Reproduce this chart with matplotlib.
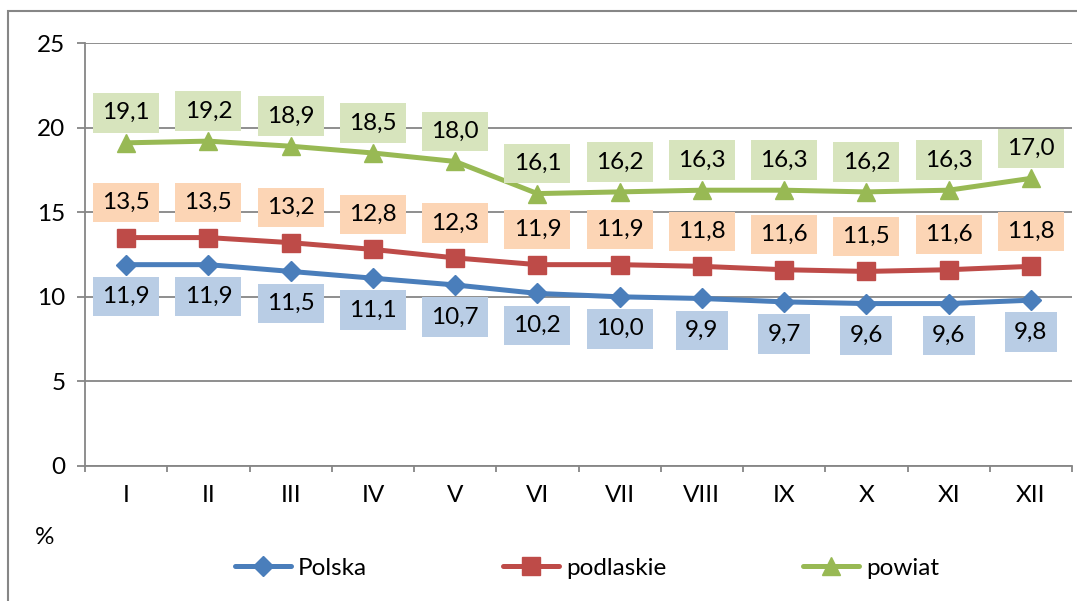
import matplotlib.pyplot as plt
from matplotlib.patches import Rectangle
from matplotlib.ticker import FixedLocator

# dane
miesiace = ["I", "II", "III", "IV", "V", "VI", "VII", "VIII", "IX", "X", "XI", "XII"]
polska = [11.9, 11.9, 11.5, 11.1, 10.7, 10.2, 10.0, 9.9, 9.7, 9.6, 9.6, 9.8]
podlaskie = [13.5, 13.5, 13.2, 12.8, 12.3, 11.9, 11.9, 11.8, 11.6, 11.5, 11.6, 11.8]
powiat = [19.1, 19.2, 18.9, 18.5, 18.0, 16.1, 16.2, 16.3, 16.3, 16.2, 16.3, 17.0]

plt.rcParams['font.family'] = ['Lato', 'DejaVu Sans']
FS = 17.5
SZARY = "#868686"

fig = plt.figure(figsize=(10.77, 6.01), dpi=100)
ax = fig.add_axes([85 / 1077, 1 - 466 / 601, 987 / 1077, 423 / 601])

x = list(range(len(miesiace)))

serie = [
    ("Polska", polska, "#4A7EBB", "D", 10, "#B9CDE5", -32),
    ("podlaskie", podlaskie, "#BE4B48", "s", 13, "#FCD5B5", 35),
    ("powiat", powiat, "#98B954", "^", 13, "#D7E4BD", 30),
]

for nazwa, wart, kolor, marker, ms, tlo, dy in serie:
    ax.plot(x, wart, color=kolor, lw=3.6, marker=marker, ms=ms,
            mec=kolor, mfc=kolor, label=nazwa, zorder=3, solid_capstyle='round')
    for xi, v in zip(x, wart):
        ax.annotate(f"{v:.1f}".replace(".", ","), (xi, v), xytext=(0, dy * 0.72),
                    textcoords="offset points", ha="center", va="center",
                    fontsize=FS, zorder=4,
                    bbox=dict(boxstyle="square,pad=0.38", fc=tlo, ec="none"))

ax.set_xlim(-0.5, 11.5)
ax.set_ylim(0, 25)
ax.set_yticks([0, 5, 10, 15, 20, 25])
ax.set_xticks(x)
ax.set_xticklabels(miesiace)
ax.xaxis.set_minor_locator(FixedLocator([i - 0.5 for i in range(13)]))
ax.grid(axis="y", color=SZARY, lw=1.3)
ax.set_axisbelow(True)

for s in ["top", "right"]:
    ax.spines[s].set_visible(False)
for s in ["left", "bottom"]:
    ax.spines[s].set_color(SZARY)
    ax.spines[s].set_linewidth(1.3)

ax.tick_params(axis="y", labelsize=FS, length=6, width=1.3, color=SZARY, pad=8)
ax.tick_params(axis="x", which="major", labelsize=FS, length=0, pad=14)
ax.tick_params(axis="x", which="minor", length=4.5, width=1.3, color=SZARY)

fig.text(45 / 1077, 1 - 538 / 601, "%", fontsize=FS, ha="center", va="center")

fig.legend(loc="center", bbox_to_anchor=(0.545, 1 - 568 / 601), ncol=3,
           frameon=False, fontsize=FS, handlelength=2.3, handletextpad=0.3,
           columnspacing=5.6)

# ramka wykresu
fig.patches.append(Rectangle((8 / 1077, -0.1), 1.2, 1.1 - 11 / 601,
                             transform=fig.transFigure, fill=False,
                             ec=SZARY, lw=1.5))

plt.savefig("out.png", dpi=100)
